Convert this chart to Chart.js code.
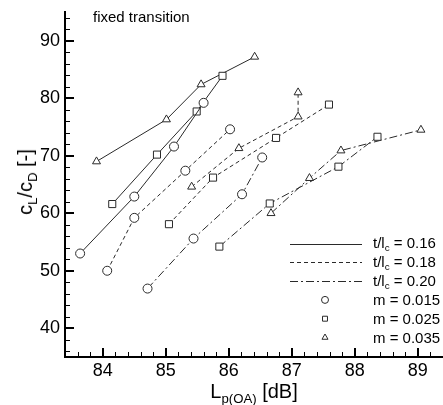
<!DOCTYPE html>
<html>
<head>
<meta charset="utf-8">
<style>
html,body{margin:0;padding:0;background:#fff;overflow:hidden;}
#wrap{position:relative;width:443px;height:405px;font-family:"Liberation Sans",Arial,Helvetica,sans-serif;color:#000;overflow:hidden;}
#wrap canvas{position:absolute;left:0;top:0;}
.lbl{position:absolute;white-space:nowrap;line-height:1;}
.lbl sub{font-size:66%;vertical-align:-0.35em;line-height:0;}
</style>
<script src="https://cdn.jsdelivr.net/npm/chart.js@4.4.1/dist/chart.umd.min.js"></script>
</head>
<body>
<div id="wrap">
<canvas id="c" width="443" height="405"></canvas>
<div class="lbl" style="left:93px;top:9px;font-size:15px;">fixed transition</div>
<div class="lbl" id="ytitle" style="left:25px;top:182px;font-size:20px;transform:translate(-50%,-50%) rotate(-90deg);">c<sub>L</sub>/c<sub>D</sub> [-]</div>
<div class="lbl" id="xtitle" style="left:254px;top:381px;font-size:20px;transform:translateX(-50%);">L<sub>p(OA)</sub> [dB]</div>
<div id="legendText"></div>
</div>
<script>
// ---- data ----
const xTicks = [84, 85, 86, 87, 88, 89];
const yTicks = [40, 50, 60, 70, 80, 90];
const thicknessLabels = ['0.16', '0.18', '0.20'];
const camberLabels = ['0.015', '0.025', '0.035'];

// t/lc = 0.16
const t16_m015 = [[83.64, 53.0], [84.50, 62.9], [85.13, 71.6], [85.60, 79.2]];
const t16_m025 = [[84.15, 61.6], [84.86, 70.2], [85.49, 77.7], [85.90, 83.9]];
const t16_m035 = [[83.90, 69.0], [85.01, 76.3], [85.56, 82.4], [86.41, 87.2]];
// t/lc = 0.18
const t18_m015 = [[84.07, 50.0], [84.50, 59.2], [85.31, 67.4], [86.02, 74.6]];
const t18_m025 = [[85.05, 58.1], [85.75, 66.2], [86.75, 73.1], [87.59, 78.9]];
const t18_m035 = [[85.41, 64.6], [86.16, 71.3], [87.10, 76.8], [87.10, 81.0]];
// t/lc = 0.20
const t20_m015 = [[84.71, 46.9], [85.44, 55.6], [86.21, 63.3], [86.53, 69.7]];
const t20_m025 = [[85.85, 54.2], [86.65, 61.7], [87.74, 68.1], [88.36, 73.3]];
const t20_m035 = [[86.67, 60.0], [87.28, 66.1], [87.78, 70.9], [89.05, 74.5]];

// ---- styles ----
const LINE = '#2a2a2a';
const dashes = [[], [4, 3], [8, 3, 2, 3]];
const markers = ['circle', 'rect', 'triangle'];
const markerRadius = [4.5, 5, 4.6];
const groups = [
  [t16_m015, t16_m025, t16_m035],
  [t18_m015, t18_m025, t18_m035],
  [t20_m015, t20_m025, t20_m035]
];

const datasets = [];
groups.forEach((g, ti) => {
  g.forEach((pts, mi) => {
    datasets.push({
      label: 't/lc=' + thicknessLabels[ti] + ', m=' + camberLabels[mi],
      data: pts.map(p => ({x: p[0], y: p[1]})),
      showLine: true,
      borderColor: LINE,
      borderWidth: 1,
      borderDash: dashes[ti],
      pointStyle: markers[mi],
      pointRadius: markerRadius[mi],
      pointHoverRadius: markerRadius[mi],
      pointBorderColor: LINE,
      pointBorderWidth: 1,
      pointBackgroundColor: '#fff',
      fill: false,
      tension: 0
    });
  });
});

const X_MIN = 83.4, X_MAX = 89.4, Y_MIN = 35, Y_MAX = 95;

const inwardTicks = {
  id: 'inwardTicks',
  afterDraw(chart) {
    const {ctx, chartArea: a, scales: {x, y}} = chart;
    ctx.save();
    ctx.strokeStyle = '#000';
    for (let i = 0; ; i++) {
      const v = Math.round((X_MIN + i * 0.2) * 10) / 10;
      if (v > X_MAX + 1e-9) break;
      const major = Math.abs(v - Math.round(v)) < 1e-6;
      const px = Math.round(x.getPixelForValue(v)) + (major ? 0 : 0.5);
      ctx.lineWidth = major ? 2 : 1;
      ctx.beginPath();
      ctx.moveTo(px, a.bottom);
      ctx.lineTo(px, a.bottom - (major ? 9 : 5));
      ctx.stroke();
    }
    for (let v = 36; v <= Y_MAX; v += 2) {
      const major = v % 10 === 0;
      const py = Math.round(y.getPixelForValue(v)) + (major ? 0 : 0.5);
      ctx.lineWidth = major ? 2 : 1;
      ctx.beginPath();
      ctx.moveTo(a.left, py);
      ctx.lineTo(a.left + (major ? 9 : 5), py);
      ctx.stroke();
    }
    ctx.restore();
  }
};

const legendX0 = 290, legendX1 = 362, legendTextX = 373, legendY0 = 243.5, legendDY = 18.8;
const legendPlugin = {
  id: 'legendSamples',
  afterDraw(chart) {
    const ctx = chart.ctx;
    ctx.save();
    ctx.strokeStyle = LINE;
    ctx.lineWidth = 1;
    thicknessLabels.forEach((t, i) => {
      const yy = Math.round(legendY0 + i * legendDY) + 0.5;
      ctx.setLineDash(dashes[i]);
      ctx.beginPath();
      ctx.moveTo(legendX0, yy);
      ctx.lineTo(legendX1, yy);
      ctx.stroke();
    });
    ctx.setLineDash([]);
    camberLabels.forEach((m, i) => {
      const yy = legendY0 + (i + 3) * legendDY;
      ctx.fillStyle = '#fff';
      Chart.helpers.drawPoint(ctx, {pointStyle: markers[i], radius: 3.5, rotation: 0, borderWidth: 1}, 325, yy);
    });
    ctx.restore();
  }
};

const lt = document.getElementById('legendText');
let html = '';
thicknessLabels.forEach((t, i) => {
  html += '<div class="lbl" style="left:' + legendTextX + 'px;top:' + (legendY0 + i * legendDY - 8.5) + 'px;font-size:15px;">t/l<sub>c</sub> = ' + t + '</div>';
});
camberLabels.forEach((m, i) => {
  html += '<div class="lbl" style="left:' + legendTextX + 'px;top:' + (legendY0 + (i + 3) * legendDY - 7.5) + 'px;font-size:15px;">m = ' + m + '</div>';
});
lt.innerHTML = html;

function zeroPad(s) { s.paddingTop = 0; s.paddingBottom = 0; s.paddingLeft = 0; s.paddingRight = 0; }

new Chart(document.getElementById('c'), {
  type: 'scatter',
  data: {datasets},
  plugins: [inwardTicks, legendPlugin],
  options: {
    responsive: false,
    animation: false,
    events: [],
    layout: {autoPadding: false, padding: {left: 0, right: 0, top: 12, bottom: 0}},
    plugins: {legend: {display: false}, tooltip: {enabled: false}, title: {display: false}},
    scales: {
      x: {
        type: 'linear', min: X_MIN, max: X_MAX,
        afterBuildTicks: s => { s.ticks = xTicks.map(v => ({value: v})); },
        afterFit: s => { s.height = 48; zeroPad(s); },
        grid: {display: false, drawTicks: false},
        border: {display: true, color: '#000', width: 2},
        ticks: {color: '#000', padding: 3, maxRotation: 0, autoSkip: false,
                font: {family: '"Liberation Sans", Arial, sans-serif', size: 18}}
      },
      y: {
        type: 'linear', min: Y_MIN, max: Y_MAX,
        afterBuildTicks: s => { s.ticks = yTicks.map(v => ({value: v})); },
        afterFit: s => { s.width = 65; zeroPad(s); },
        grid: {display: false, drawTicks: false},
        border: {display: true, color: '#000', width: 2},
        ticks: {color: '#000', padding: 5, autoSkip: false,
                font: {family: '"Liberation Sans", Arial, sans-serif', size: 18}}
      }
    }
  }
});
</script>
</body>
</html>
